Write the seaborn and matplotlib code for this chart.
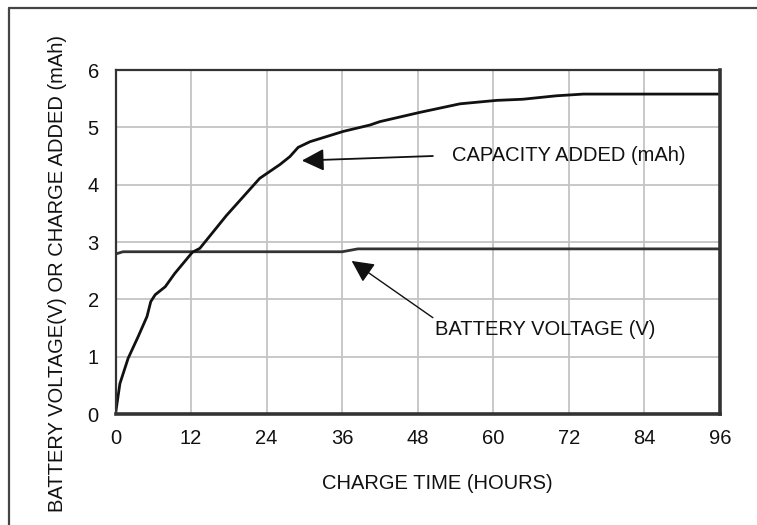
import matplotlib.pyplot as plt
import matplotlib.lines as mlines
import seaborn as sns
import pandas as pd

# capacity added (mAh) vs charge time (hours)
cap_hours = [0, 0.7, 2.0, 3.6, 5.0, 5.6, 6.3, 7.9, 9.4, 12.2, 13.4, 17.6, 22.9,
             26.1, 27.7, 29.0, 30.9, 36.2, 40.4, 42.0, 48.3, 54.7, 60.5, 64.7,
             70.0, 74.3, 96.0]
cap_mah = [0, 0.53, 0.97, 1.35, 1.70, 1.96, 2.08, 2.22, 2.45, 2.82, 2.89, 3.46,
           4.11, 4.35, 4.49, 4.65, 4.75, 4.93, 5.04, 5.10, 5.26, 5.41, 5.47,
           5.49, 5.55, 5.58, 5.58]

# battery voltage (V)
volt_hours = [0, 1.2, 36.0, 38.5, 96.0]
volt_v = [2.79, 2.83, 2.83, 2.88, 2.88]

x_ticks = [0, 12, 24, 36, 48, 60, 72, 84, 96]
y_ticks = [0, 1, 2, 3, 4, 5, 6]

sns.set_style("white")
plt.rcParams['font.family'] = ['Liberation Sans', 'DejaVu Sans']

cap_df = pd.DataFrame({"t": cap_hours, "v": cap_mah})
volt_df = pd.DataFrame({"t": volt_hours, "v": volt_v})

FS = 14.5
TXT = "#111111"

fig = plt.figure(figsize=(7.57, 5.25), dpi=100)
ax = fig.add_axes([115.5/757, 1-414/525, (720-115.5)/757, (414-70)/525])

ax.grid(True, color="#c4c4c4", linewidth=1.3)
ax.set_axisbelow(True)

sns.lineplot(data=volt_df, x="t", y="v", ax=ax, color="#333333", linewidth=2.0)
sns.lineplot(data=cap_df, x="t", y="v", ax=ax, color="#111111", linewidth=2.0)

ax.set_xlim(0, 96)
ax.set_ylim(0, 6)
ax.set_xticks(x_ticks)
ax.set_yticks(y_ticks)
ax.tick_params(length=0, labelsize=FS, colors=TXT)
ax.tick_params(axis="x", pad=11)
ax.tick_params(axis="y", pad=12)

for side in ["left", "top"]:
    ax.spines[side].set_linewidth(1.6)
for side in ["right", "bottom"]:
    ax.spines[side].set_linewidth(2.6)
for s in ax.spines.values():
    s.set_color("#333333")

ax.set_xlabel("CHARGE TIME (HOURS)", fontsize=FS, color=TXT)
ax.xaxis.set_label_coords((437-115.5)/(720-115.5), -(474-414)/344)
ax.set_ylabel("BATTERY VOLTAGE(V) OR CHARGE ADDED (mAh)", fontsize=FS, color=TXT)
ax.yaxis.set_label_coords(-(115.5-67)/604.5, (414-273)/344)

# callouts
ax.annotate("", xy=(29.6, 4.42), xytext=(50.4, 4.50),
            arrowprops=dict(arrowstyle="-|>,head_length=1.0,head_width=0.5",
                            color="#111111", lw=1.3, mutation_scale=13.5,
                            shrinkA=0, shrinkB=0))
ax.text(53.5, 4.51, "CAPACITY ADDED (mAh)", fontsize=FS, color=TXT,
        va="center", ha="left")

ax.annotate("", xy=(37.5, 2.67), xytext=(50.4, 1.68),
            arrowprops=dict(arrowstyle="-|>,head_length=1.0,head_width=0.5",
                            color="#111111", lw=1.0, mutation_scale=13.5,
                            shrinkA=0, shrinkB=0))
ax.text(50.7, 1.47, "BATTERY VOLTAGE (V)", fontsize=FS, color=TXT,
        va="center", ha="left")

# outer frame (left and top edges of the original scan)
fig.add_artist(mlines.Line2D([9/757, 9/757], [0, 1-8/525], color="#444444", lw=1.6))
fig.add_artist(mlines.Line2D([9/757, 1], [1-8/525, 1-8/525], color="#444444", lw=1.6))

fig.savefig("out.png", dpi=100)
